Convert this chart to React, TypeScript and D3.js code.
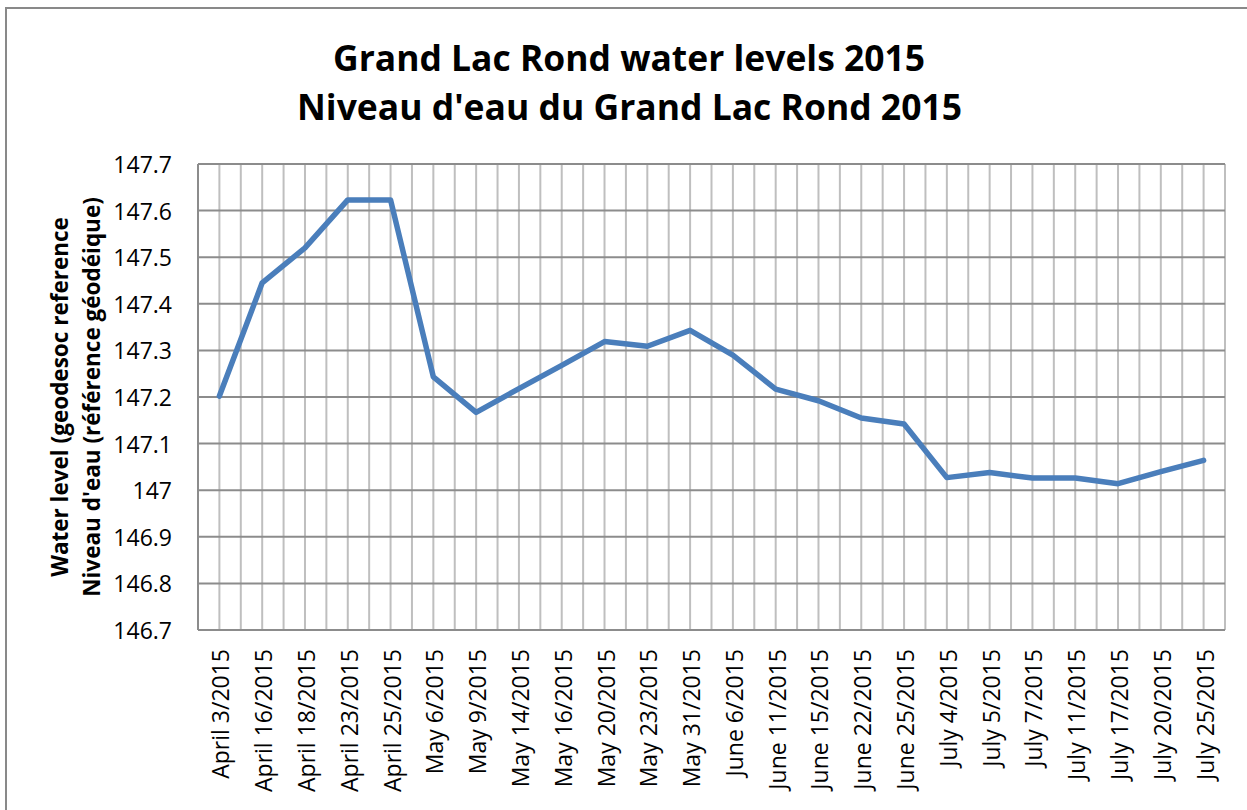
import React from "react";
import * as d3 from "d3";

const dates = [
  "April 3/2015", "April 16/2015", "April 18/2015", "April 23/2015", "April 25/2015",
  "May 6/2015", "May 9/2015", "May 14/2015", "May 16/2015", "May 20/2015",
  "May 23/2015", "May 31/2015", "June 6/2015", "June 11/2015", "June 15/2015",
  "June 22/2015", "June 25/2015", "July 4/2015", "July 5/2015", "July 7/2015",
  "July 11/2015", "July 17/2015", "July 20/2015", "July 25/2015",
];
const levels = [
  147.202, 147.445, 147.520, 147.623, 147.623,
  147.243, 147.167, 147.218, 147.268, 147.319,
  147.309, 147.343, 147.290, 147.217, 147.192,
  147.155, 147.142, 147.027, 147.038, 147.026,
  147.026, 147.014, 147.040, 147.064,
];
const yTicks = [146.7, 146.8, 146.9, 147, 147.1, 147.2, 147.3, 147.4, 147.5, 147.6, 147.7];
const titleLines = ["Grand Lac Rond water levels 2015", "Niveau d'eau du Grand Lac Rond 2015"];
const yTitleLines = ["Water level (geodesoc reference", "Niveau d'eau (référence géodéique)"];

const W = 1247, H = 810;
const L = 198, R = 1225, T = 164, B = 630;
const FONT = "'Open Sans', 'Noto Sans', sans-serif";

export default function App() {
  const x = d3.scaleBand<string>().domain(dates).range([L, R]).padding(0);
  const bw = x.bandwidth();
  const cx = (d: string) => (x(d) as number) + bw / 2;
  const y = d3.scaleLinear().domain([146.7, 147.7]).range([B, T]);

  const line = d3.line<number>()
    .x((_, i) => cx(dates[i]))
    .y((v) => y(v));

  const vLines: number[] = [];
  dates.forEach((d) => {
    vLines.push(cx(d));
    vLines.push((x(d) as number) + bw);
  });

  const plotMidY = (T + B) / 2;

  return (
    <svg width={W} height={H} style={{ position: "absolute", left: 0, top: 0, display: "block", background: "#fff" }}>
      <rect x={0} y={0} width={W} height={H} fill="#fff" />
      <rect x={6} y={8} width={1400} height={1000} fill="none" stroke="#898989" strokeWidth={2} />

      <text x={629} y={71} textAnchor="middle" fontFamily={FONT} fontWeight="bold" fontSize={36}
        textLength={592} lengthAdjust="spacingAndGlyphs">{titleLines[0]}</text>
      <text x={629.5} y={120} textAnchor="middle" fontFamily={FONT} fontWeight="bold" fontSize={36}
        textLength={665} lengthAdjust="spacingAndGlyphs">{titleLines[1]}</text>

      {vLines.map((vx, i) => (
        <line key={"v" + i} x1={vx} x2={vx} y1={T} y2={B} stroke="#bfbfbf" strokeWidth={2} />
      ))}
      {yTicks.map((t) => (
        <line key={"h" + t} x1={L} x2={R} y1={y(t)} y2={y(t)} stroke="#8c8c8c" strokeWidth={2} />
      ))}
      <line x1={L} x2={L} y1={T} y2={B} stroke="#8c8c8c" strokeWidth={2} />
      <line x1={L} x2={R} y1={B} y2={B} stroke="#8c8c8c" strokeWidth={2} />

      {yTicks.map((t) => (
        <text key={"yl" + t} x={172} y={y(t)} textAnchor="end" dominantBaseline="central"
          fontFamily={FONT} fontSize={23} fill="#000">{d3.format("~g")(t)}</text>
      ))}

      {dates.map((d) => (
        <text key={"xl" + d} transform={`translate(${cx(d) + 1},${649}) rotate(-90)`}
          textAnchor="end" dominantBaseline="central" fontFamily={FONT} fontSize={23} fill="#000">{d}</text>
      ))}

      <text transform={`translate(59,${plotMidY}) rotate(-90)`} textAnchor="middle" dominantBaseline="central"
        fontFamily={FONT} fontWeight="bold" fontSize={22.5}>{yTitleLines[0]}</text>
      <text transform={`translate(91,${plotMidY}) rotate(-90)`} textAnchor="middle" dominantBaseline="central"
        fontFamily={FONT} fontWeight="bold" fontSize={22.5}>{yTitleLines[1]}</text>

      <path d={line(levels) || ""} fill="none" stroke="#4a7ebb" strokeWidth={5.5}
        strokeLinejoin="round" strokeLinecap="round" />
    </svg>
  );
}
